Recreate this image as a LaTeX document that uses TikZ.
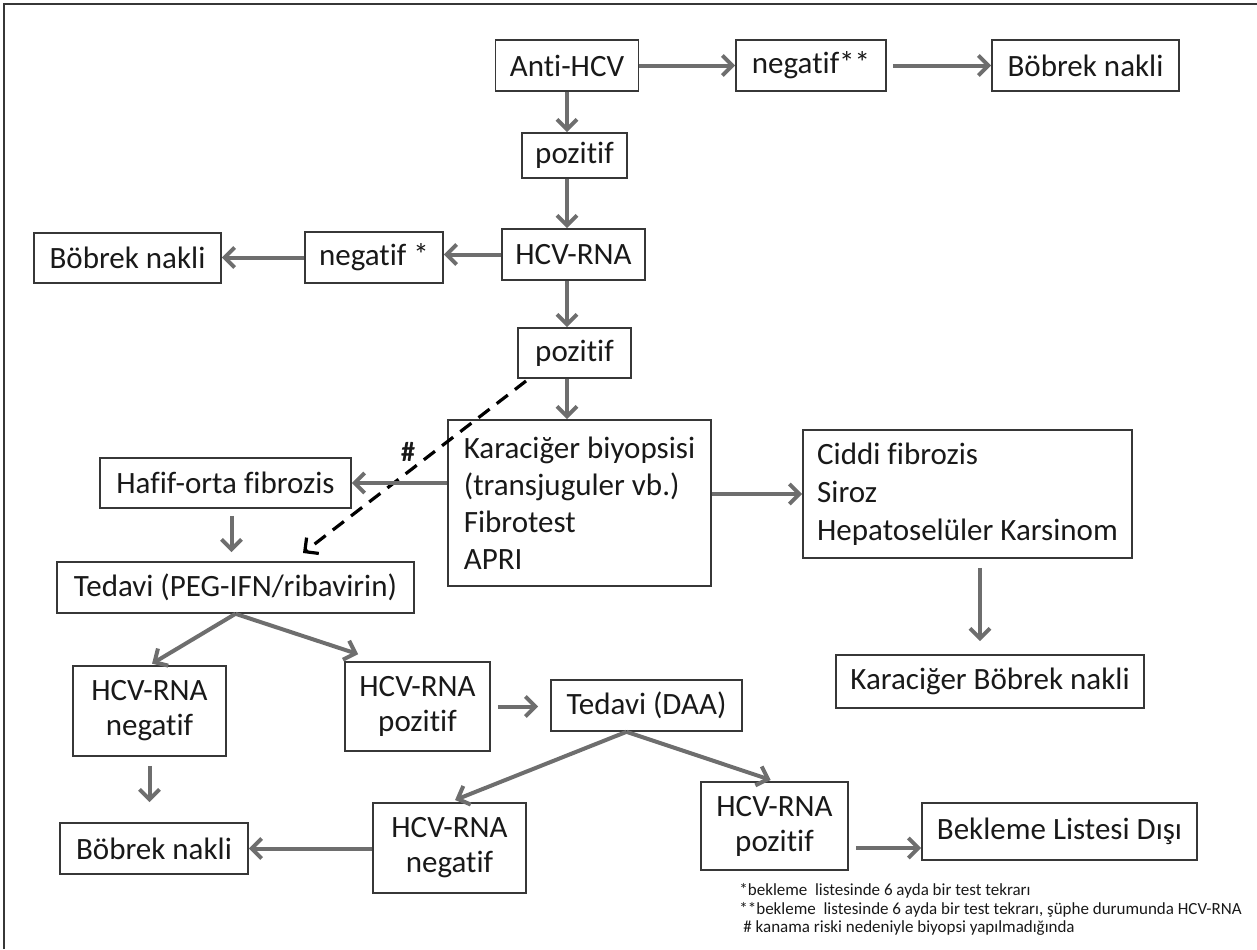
\documentclass[tikz,border=0pt]{standalone}
\usepackage{fontspec}
\setmainfont{Carlito}[Ligatures=NoCommon]
\usetikzlibrary{arrows.meta,positioning}
\definecolor{arrowgray}{RGB}{110,110,110}
\definecolor{boxline}{RGB}{55,55,55}
\definecolor{txt}{RGB}{25,25,25}

\begin{document}
\begin{tikzpicture}[x=0.5pt,y=-0.5pt,>={Straight Barb[length=5pt,width=10pt]},font=\fontsize{15.5}{18}\selectfont,text=txt,
  box/.style={draw=boxline,line width=0.8pt,inner sep=0pt,align=center},
  lbox/.style={box,align=left},
  two/.style={box,font=\fontsize{15.5}{17.5}\selectfont},
  arr/.style={->,draw=arrowgray,line width=2pt},
  dasharr/.style={->,draw=black,line width=1.6pt,dash pattern=on 7pt off 4.5pt},
  note/.style={anchor=base west,inner sep=0pt,font=\fontsize{8.5}{10}\selectfont}]
\useasboundingbox (0,0) rectangle (1257,949);
\draw[boxline,line width=1pt] (4,949) -- (4,4) -- (1257,4);
\coordinate (col) at (567,0);
\node[box,minimum width=71.5pt,minimum height=25.5pt] (anti) at (567,65.5) {Anti-HCV};
\node[box,minimum width=75pt,minimum height=25.5pt] (negB) at (811,65.5) {negatif**};
\node[box,minimum width=93.5pt,minimum height=25.5pt] (bnA) at (1085.5,65.5) {Böbrek nakli};
\node[box,minimum width=52.5pt,minimum height=22.5pt] (poz1) at (574.5,155.5) {pozitif};
\node[box,minimum width=71.5pt,minimum height=25.5pt] (hcv1) at (573.5,254.5) {HCV-RNA};
\node[box,minimum width=69pt,minimum height=25.5pt] (negA) at (374,257.5) {negatif *};
\node[box,minimum width=93.5pt,minimum height=25pt] (bnB) at (127.5,258) {Böbrek nakli};
\node[box,minimum width=56.5pt,minimum height=25pt] (poz2) at (574.5,353) {pozitif};
\node[lbox,minimum width=131.5pt,minimum height=83pt,font=\fontsize{15.5}{18.5}\selectfont] (biyo) at (579.5,503) {Karaciğer biyopsisi\\(transjuguler vb.)\\Fibrotest\\APRI};
\node[box,minimum width=125.5pt,minimum height=25pt] (hafif) at (225.5,483) {Hafif-orta fibrozis};
\node[lbox,minimum width=164.5pt,minimum height=64pt,font=\fontsize{15.5}{19}\selectfont] (ciddi) at (967.5,494) {Ciddi fibrozis\\Siroz\\Hepatoselüler Karsinom};
\node[box,minimum width=154pt,minimum height=26.5pt] (kbn) at (990,681.5) {Karaciğer Böbrek nakli};
\node[box,minimum width=178.5pt,minimum height=25.5pt] (peg) at (235.5,587.5) {Tedavi (PEG-IFN/ribavirin)};
\node[two,minimum width=76.5pt,minimum height=45pt] (hcvnA) at (149.5,711) {HCV-RNA\\negatif};
\node[two,minimum width=72.5pt,minimum height=44.5pt] (hcvpA) at (417.5,706.5) {HCV-RNA\\pozitif};
\node[box,minimum width=95.5pt,minimum height=25.5pt] (daa) at (646.5,705.5) {Tedavi (DAA)};
\node[box,minimum width=94pt,minimum height=25.5pt] (bnC) at (154,848.5) {Böbrek nakli};
\node[two,minimum width=76.5pt,minimum height=45pt] (hcvnB) at (449.5,848) {HCV-RNA\\negatif};
\node[two,minimum width=73.5pt,minimum height=44pt] (hcvpB) at (774.5,826) {HCV-RNA\\pozitif};
\node[box,minimum width=137.5pt,minimum height=28.5pt] (bekl) at (1059.5,831.5) {Bekleme Listesi Dışı};
\node[font=\bfseries\fontsize{14}{16}\selectfont] (hash) at (408,452) {\#};
\coordinate (dstart) at (526,381);
\coordinate (dend) at (303,553);
\draw[arr] (anti) -- (negB);
\draw[arr,shorten <=3pt] (negB) -- (bnA);
\draw[arr] (anti.south) -- (col |- poz1.north);
\draw[arr] (col |- poz1.south) -- (col |- hcv1.north);
\draw[arr] (hcv1.west) -- (hcv1.west -| negA.east);
\draw[arr] (negA.west) -- (negA.west -| bnB.east);
\draw[arr] (col |- hcv1.south) -- (col |- poz2.north);
\draw[arr] (col |- poz2.south) -- (col |- biyo.north);
\draw[dasharr] (dstart) -- (dend);
\draw[arr] (biyo.west |- hafif.east) -- (hafif.east);
\draw[arr] (biyo.east |- ciddi.west) -- (ciddi.west);
\draw[arr,shorten <=3.5pt,shorten >=4.5pt] ([xshift=3pt]hafif.south) -- ([xshift=3pt]hafif.south |- peg.north);
\draw[arr,shorten <=4.5pt,shorten >=6.5pt] ([xshift=-5pt]kbn.north |- ciddi.south) -- ([xshift=-5pt]kbn.north);
\draw[arr,shorten >=1.5pt] (peg.south) -- (hcvnA.north);
\draw[arr] (peg.south) -- ([xshift=7pt,yshift=3.5pt]hcvpA.north west);
\draw[arr,shorten <=4.5pt,shorten >=10pt] (hcvnA.south) -- (hcvnA.south |- bnC.north);
\draw[arr,shorten <=3.5pt,shorten >=6pt] (hcvpA.east) -- (hcvpA.east -| daa.west);
\draw[arr,shorten >=3pt] ([xshift=-10pt]daa.south) -- (hcvnB.north);
\draw[arr,shorten >=2pt] ([xshift=-10pt]daa.south) -- (hcvpB.north);
\draw[arr] (hcvnB.west |- bnC.east) -- (bnC.east);
\draw[arr,shorten <=3.5pt] ([yshift=-11pt]hcvpB.east) -- ([yshift=-11pt]hcvpB.east -| bekl.west);
\node[note] (n1) at (739,895) {*bekleme\ \ listesinde 6 ayda bir test tekrarı};
\node[note] (n2) at (739,914) {**bekleme\ \ listesinde 6 ayda bir test tekrarı, şüphe durumunda HCV-RNA};
\node[note] (n3) at (743,932) {\# kanama riski nedeniyle biyopsi yapılmadığında};
\end{tikzpicture}
\end{document}
